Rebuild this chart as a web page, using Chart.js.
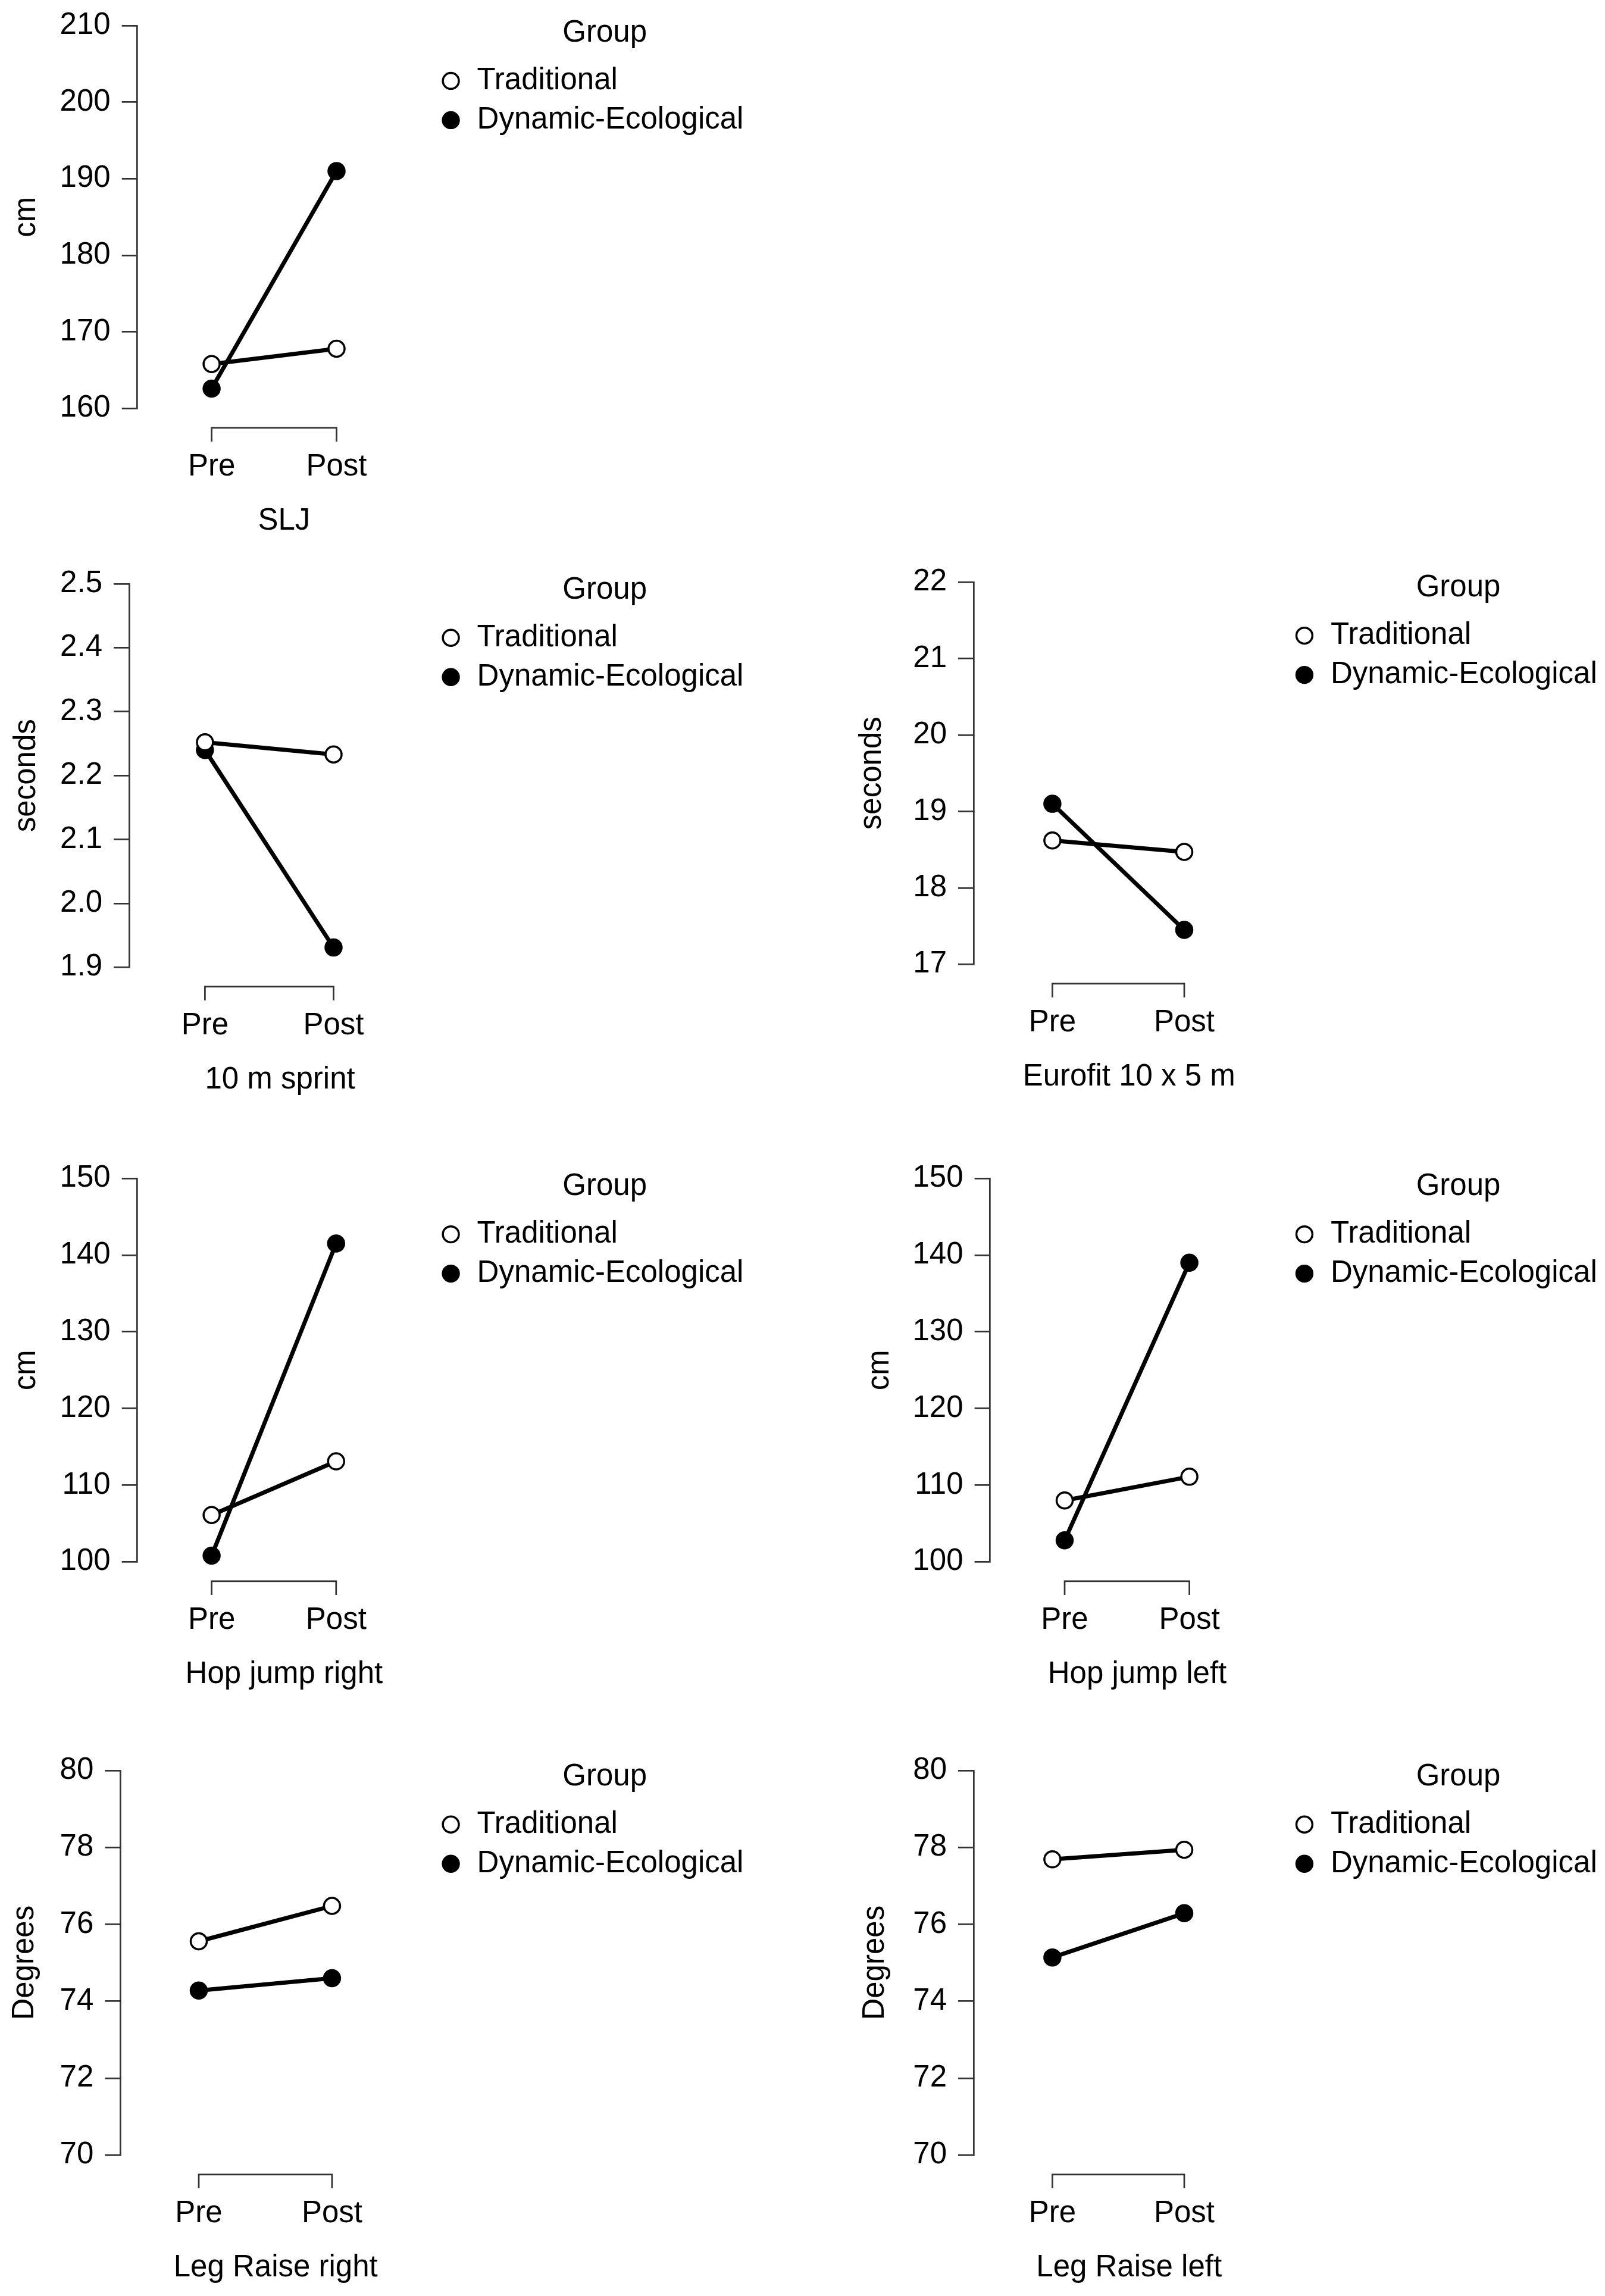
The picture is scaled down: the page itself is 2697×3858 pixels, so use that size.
<!DOCTYPE html>
<html>
<head>
<meta charset="utf-8">
<script src="https://cdn.jsdelivr.net/npm/chart.js@4.4.1/dist/chart.umd.min.js"></script>
<style>
  html, body { margin: 0; padding: 0; background: #fff; }
  body { position: relative; width: 2697px; height: 3858px; overflow: hidden; }
  canvas { position: absolute; }
</style>
</head>
<body>
<script>
const phases = ["Pre", "Post"];
const groups = ["Traditional", "Dynamic-Ecological"];

const sljTraditional = [165.8, 167.8];
const sljDynamic = [162.6, 191.0];
const sljTicks = [160, 170, 180, 190, 200, 210];

const sprintTraditional = [2.252, 2.233];
const sprintDynamic = [2.240, 1.931];
const sprintTicks = [1.9, 2.0, 2.1, 2.2, 2.3, 2.4, 2.5];

const eurofitTraditional = [18.62, 18.47];
const eurofitDynamic = [19.10, 17.45];
const eurofitTicks = [17, 18, 19, 20, 21, 22];

const hopRightTraditional = [106.1, 113.1];
const hopRightDynamic = [100.8, 141.5];
const hopLeftTraditional = [108.0, 111.1];
const hopLeftDynamic = [102.8, 139.0];
const hopTicks = [100, 110, 120, 130, 140, 150];

const legRightTraditional = [75.56, 76.48];
const legRightDynamic = [74.28, 74.60];
const legLeftTraditional = [77.69, 77.94];
const legLeftDynamic = [75.14, 76.29];
const legTicks = [70, 72, 74, 76, 78, 80];

const panels = [
  { xTitle: "SLJ", yTitle: "cm", trad: sljTraditional, dyn: sljDynamic, ticks: sljTicks, dec: 0 },
  { xTitle: "10 m sprint", yTitle: "seconds", trad: sprintTraditional, dyn: sprintDynamic, ticks: sprintTicks, dec: 1 },
  { xTitle: "Eurofit 10 x 5 m", yTitle: "seconds", trad: eurofitTraditional, dyn: eurofitDynamic, ticks: eurofitTicks, dec: 0 },
  { xTitle: "Hop jump right", yTitle: "cm", trad: hopRightTraditional, dyn: hopRightDynamic, ticks: hopTicks, dec: 0 },
  { xTitle: "Hop jump left", yTitle: "cm", trad: hopLeftTraditional, dyn: hopLeftDynamic, ticks: hopTicks, dec: 0 },
  { xTitle: "Leg Raise right", yTitle: "Degrees", trad: legRightTraditional, dyn: legRightDynamic, ticks: legTicks, dec: 0 },
  { xTitle: "Leg Raise left", yTitle: "Degrees", trad: legLeftTraditional, dyn: legLeftDynamic, ticks: legTicks, dec: 0 }
];

// page placement of each panel (px): y label centre, axis line, Pre/Post columns,
// top/bottom tick, legend title centre, legend dot, right edge of the canvas
const frames = [
  { ylab: 44.8, axis: 230.7, pre: 355.6, post: 565.5, top: 42.8, bottom: 686.5, group: 55.7, dot: 757.6, right: 1340 },
  { ylab: 44.8, axis: 217.0, pre: 344.4, post: 560.5, top: 980.6, bottom: 1624.6, group: 991.5, dot: 757.6, right: 1340 },
  { ylab: 1466, axis: 1636, pre: 1768.4, post: 1990, top: 977.6, bottom: 1619.8, group: 987.9, dot: 2191.9, right: 2697 },
  { ylab: 44.8, axis: 230.7, pre: 355.6, post: 564.8, top: 1980, bottom: 2624.6, group: 1993.9, dot: 757.6, right: 1340 },
  { ylab: 1478.9, axis: 1663.6, pre: 1789, post: 1998.6, top: 1980, bottom: 2624.6, group: 1993.9, dot: 2191.9, right: 2697 },
  { ylab: 41.3, axis: 202.3, pre: 334, post: 557.9, top: 2974.5, bottom: 3620.9, group: 2985.5, dot: 757.6, right: 1340 },
  { ylab: 1470.3, axis: 1636, pre: 1768.4, post: 1990, top: 2974.5, bottom: 3620.9, group: 2985.5, dot: 2191.9, right: 2697 }
];

const FONT = 51;
const LINE_H = FONT * 1.2;
const PAD_TOP = 40;      // space above the top tick inside the canvas
const X_BOX = 220.6;     // height of the x scale box under the plot
const BOX_W = 37;
const LEG_PAD = 15;
const LEG_W = 363;
const INK = "#333";

Chart.defaults.font.family = "'Liberation Sans', Arial, Helvetica, sans-serif";
Chart.defaults.font.size = FONT;
Chart.defaults.color = "#000";

// R style bracket axis under the two time points
const bracket = {
  id: "bracket",
  afterDraw(chart, args, opts) {
    const sx = chart.scales.x;
    const ctx = chart.ctx;
    const y0 = chart.chartArea.bottom + opts.gap;
    const a = sx.getPixelForValue(0);
    const b = sx.getPixelForValue(1);
    ctx.save();
    ctx.strokeStyle = opts.color;
    ctx.lineWidth = opts.width;
    ctx.beginPath();
    ctx.moveTo(a, y0 + opts.len);
    ctx.lineTo(a, y0);
    ctx.lineTo(b, y0);
    ctx.lineTo(b, y0 + opts.len);
    ctx.stroke();
    ctx.restore();
  }
};

// the legend box is kept narrow so its title sits right; let the labels run past it
const legendRoom = {
  id: "legendRoom",
  afterLayout(chart) {
    if (chart.legend) chart.legend.right = chart.width;
  }
};

function toPoints(values) {
  return values.map((v, i) => ({ x: i, y: v }));
}

panels.forEach((p, i) => {
  const f = frames[i];
  const left = Math.round(f.ylab - LINE_H / 2);
  const top = Math.round(f.top - PAD_TOP);
  const width = f.right - left;
  const height = Math.round(PAD_TOP + (f.bottom - f.top) + X_BOX);

  const legendLeft = f.dot - LEG_PAD - BOX_W / 2;
  const padRight = f.right - legendLeft - LEG_W;
  const step = f.post - f.pre;
  const xMin = -(f.pre - f.axis) / step;
  const xMax = xMin + (legendLeft - f.axis) / step;
  const yWidth = f.axis - left;
  const titleTop = f.group - top - FONT / 2;

  const canvas = document.createElement("canvas");
  canvas.width = width;
  canvas.height = height;
  canvas.style.left = left + "px";
  canvas.style.top = top + "px";
  canvas.style.width = width + "px";
  canvas.style.height = height + "px";
  document.body.appendChild(canvas);

  const lineStyle = {
    borderColor: "#000",
    borderWidth: 7,
    pointRadius: 13.5,
    pointBorderWidth: 3.5,
    pointBorderColor: "#000",
    clip: false
  };

  new Chart(canvas.getContext("2d"), {
    type: "line",
    data: {
      datasets: [
        Object.assign({ label: groups[0], data: toPoints(p.trad), pointBackgroundColor: "#fff", backgroundColor: "#fff" }, lineStyle),
        Object.assign({ label: groups[1], data: toPoints(p.dyn), pointBackgroundColor: "#000", backgroundColor: "#000" }, lineStyle)
      ]
    },
    options: {
      responsive: false,
      animation: false,
      events: [],
      layout: { padding: { top: 0, left: 0, bottom: 0, right: padRight } },
      scales: {
        x: {
          type: "linear",
          position: "bottom",
          bounds: "data",
          min: xMin,
          max: xMax,
          grid: { display: false, drawTicks: false },
          border: { display: false },
          ticks: {
            autoSkip: false,
            maxRotation: 0,
            padding: 68,
            color: "#000",
            callback: (v) => phases[v]
          },
          afterBuildTicks: (s) => { s.ticks = phases.map((_, k) => ({ value: k })); },
          afterFit: (s) => { s.height = X_BOX; s.paddingLeft = 0; s.paddingRight = 0; },
          title: { display: true, text: p.xTitle, color: "#000", padding: 0 }
        },
        y: {
          type: "linear",
          position: "left",
          bounds: "data",
          min: p.ticks[0],
          max: p.ticks[p.ticks.length - 1],
          grid: { drawOnChartArea: false, drawTicks: true, tickLength: 26, color: INK, lineWidth: 2.7 },
          border: { display: true, color: INK, width: 2.7 },
          ticks: {
            padding: 19,
            color: "#000",
            callback: (v) => Number(v).toFixed(p.dec)
          },
          afterBuildTicks: (s) => { s.ticks = p.ticks.map((v) => ({ value: v })); },
          afterFit: (s) => { s.width = yWidth; s.paddingTop = PAD_TOP; s.paddingBottom = 0; },
          title: { display: true, text: p.yTitle, color: "#000", padding: 0 }
        }
      },
      plugins: {
        tooltip: { enabled: false },
        bracket: { gap: 32.5, len: 23, width: 2.7, color: INK },
        legend: {
          position: "right",
          align: "start",
          maxWidth: LEG_W,
          title: {
            display: true,
            text: "Group",
            position: "end",
            color: "#000",
            font: { size: FONT },
            padding: { top: titleTop, bottom: 4 }
          },
          labels: {
            usePointStyle: true,
            boxWidth: BOX_W,
            boxHeight: 19,
            padding: LEG_PAD,
            color: "#000",
            font: { size: FONT }
          }
        }
      }
    },
    plugins: [bracket, legendRoom]
  });
});
</script>
</body>
</html>
